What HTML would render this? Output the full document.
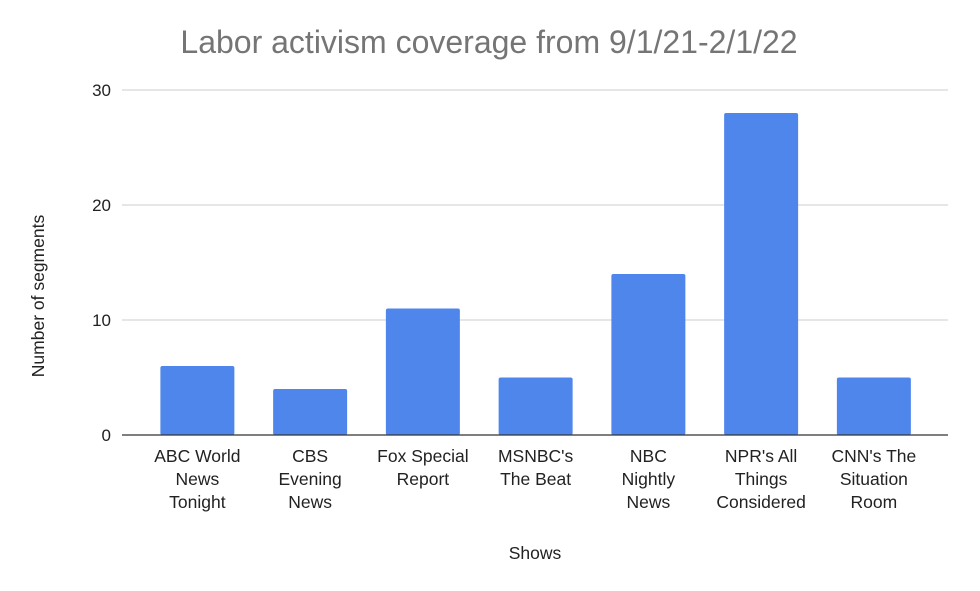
<!DOCTYPE html>
<html><head><meta charset="utf-8"><style>
body{margin:0;background:#fff;}
svg text{font-family:"Liberation Sans",Arial,sans-serif;}
</style></head><body>
<svg id="chart" width="980" height="586" xmlns="http://www.w3.org/2000/svg">
<text x="489" y="53" text-anchor="middle" font-size="32" fill="#757575">Labor activism coverage from 9/1/21-2/1/22</text>
<g id="grid"></g>
<g id="bars"></g>
<g id="xlabels"></g>
<line x1="122" x2="948" y1="435" y2="435" stroke="#333" stroke-width="1.2"/>
<text x="535" y="559" text-anchor="middle" font-size="17.5" fill="#222">Shows</text>
<text transform="translate(44,296) rotate(-90)" text-anchor="middle" font-size="17.5" fill="#222">Number of segments</text>
</svg>
<script>
const categories=[["ABC World","News","Tonight"],["CBS","Evening","News"],["Fox Special","Report"],["MSNBC's","The Beat"],["NBC","Nightly","News"],["NPR's All","Things","Considered"],["CNN's The","Situation","Room"]];
const values=[6,4,11,5,14,28,5];
const yTicks=[0,10,20,30];
const NS="http://www.w3.org/2000/svg";
const y0=435,yTop=90,yMax=30,x0=141,step=112.75,bw=74;
function yS(v){return y0-(v/yMax)*(y0-yTop);}
function xC(i){return x0+step*(i+0.5);}
function mk(t,a,p){const e=document.createElementNS(NS,t);for(const k in a)e.setAttribute(k,a[k]);p.appendChild(e);return e;}
const grid=document.getElementById('grid'),bars=document.getElementById('bars'),xl=document.getElementById('xlabels');
yTicks.forEach(t=>{
  if(t>0){const l=mk('line',{x1:122,x2:948,y1:yS(t),y2:yS(t),stroke:'#ccc','stroke-width':1},grid);
  
  }
  const tx=mk('text',{x:111,y:yS(t)+6,'text-anchor':'end','font-size':17,fill:'#222'},grid);
  tx.textContent=t;
  
  
});
values.forEach((v,i)=>{
  const r=mk('rect',{x:xC(i)-bw/2,y:yS(v),width:bw,height:y0-yS(v),fill:'#4f86ec',rx:2},bars);
  
  
  categories[i].forEach((s,j)=>{
    const t=mk('text',{x:xC(i),y:462+j*23,'text-anchor':'middle','font-size':17.5,fill:'#222'},xl);
    t.textContent=s;
    
    
  });
});
</script>
</body></html>
